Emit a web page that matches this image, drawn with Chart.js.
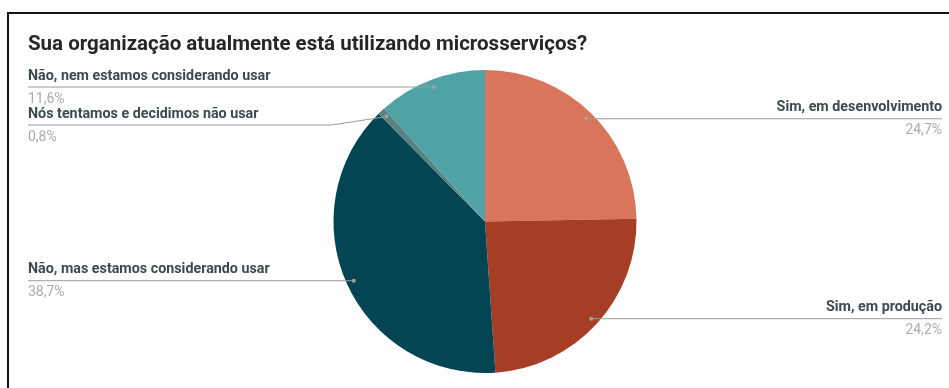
<!DOCTYPE html>
<html lang="pt">
<head>
    <meta charset="UTF-8">
    <title>Microsserviços</title>
    <script src="https://cdn.jsdelivr.net/npm/chart.js"></script>
    <style>
        html, body {
            margin: 0;
            padding: 0;
            background: #ffffff;
        }
        .frame {
            position: absolute;
            left: 7px;
            top: 12px;
            width: 960px;
            height: 400px;
            border-top: 2px solid #111;
            border-left: 2px solid #111;
        }
        .chart-container {
            position: absolute;
            left: 0;
            top: 0;
            width: 949px;
            height: 388px;
        }
    </style>
</head>
<body>
    <div class="frame"></div>
    <div class="chart-container">
        <canvas id="pieChart"></canvas>
    </div>

    <script>
        // Data
        const chartTitle = 'Sua organização atualmente está utilizando microsserviços?';
        const categories = [
            'Sim, em desenvolvimento',
            'Sim, em produção',
            'Não, mas estamos considerando usar',
            'Nós tentamos e decidimos não usar',
            'Não, nem estamos considerando usar'
        ];
        const shares = [24.7, 24.2, 38.7, 0.8, 11.6];
        const valueLabels = ['24,7%', '24,2%', '38,7%', '0,8%', '11,6%'];
        const sliceColors = ['#d8755a', '#a63e26', '#034552', '#5a8283', '#4fa3a5'];

        // Draws title, leader lines and outside labels
        const calloutPlugin = {
            id: 'callouts',
            afterDraw(chart) {
                const ctx = chart.ctx;
                ctx.save();

                ctx.fillStyle = '#262626';
                ctx.font = 'bold 20.5px Roboto';
                ctx.textBaseline = 'middle';
                ctx.textAlign = 'left';
                ctx.fillText(chartTitle, 28, 45);

                const meta = chart.getDatasetMeta(0);
                const leftX = 28;
                const rightX = 942;
                let lastLeftY = -Infinity;
                let lastRightY = -Infinity;

                // anchor dot near the rim of each slice
                const items = meta.data.map((arc, i) => {
                    const p = arc.getProps(['x', 'y', 'startAngle', 'endAngle', 'outerRadius']);
                    const mid = (p.startAngle + p.endAngle) / 2;
                    const r = p.outerRadius * 0.95;
                    return {
                        i,
                        dx: p.x + Math.cos(mid) * r,
                        dy: p.y + Math.sin(mid) * r,
                        right: Math.cos(mid) >= 0
                    };
                });
                const ordered = items.slice().sort((a, b) => a.dy - b.dy);

                ordered.forEach(it => {
                    let lineY = it.dy;
                    if (it.right) {
                        lineY = Math.max(lineY, lastRightY + 38);
                        lastRightY = lineY;
                    } else {
                        lineY = Math.max(lineY, lastLeftY + 38);
                        lastLeftY = lineY;
                    }

                    ctx.strokeStyle = '#9a9a9a';
                    ctx.lineWidth = 1;
                    ctx.beginPath();
                    if (it.right) {
                        ctx.moveTo(rightX, lineY);
                        if (Math.abs(lineY - it.dy) > 1) {
                            ctx.lineTo(it.dx + 55, lineY);
                        }
                        ctx.lineTo(it.dx, it.dy);
                    } else {
                        ctx.moveTo(leftX, lineY);
                        if (Math.abs(lineY - it.dy) > 1) {
                            ctx.lineTo(it.dx - 55, lineY);
                        }
                        ctx.lineTo(it.dx, it.dy);
                    }
                    ctx.stroke();

                    ctx.fillStyle = '#a0a0a0';
                    ctx.beginPath();
                    ctx.arc(it.dx, it.dy, 2, 0, Math.PI * 2);
                    ctx.fill();

                    ctx.textAlign = it.right ? 'right' : 'left';
                    const tx = it.right ? rightX : leftX;
                    ctx.fillStyle = '#3d4a4f';
                    ctx.font = 'bold 14.3px Roboto';
                    ctx.fillText(categories[it.i], tx, lineY - 11);
                    ctx.fillStyle = '#ababab';
                    ctx.font = '14px Roboto';
                    ctx.fillText(valueLabels[it.i], tx, lineY + 12);
                });

                ctx.restore();
            }
        };

        const ctx = document.getElementById('pieChart').getContext('2d');
        const chart = new Chart(ctx, {
            type: 'pie',
            data: {
                labels: categories,
                datasets: [{
                    data: shares,
                    backgroundColor: sliceColors,
                    borderWidth: 0
                }]
            },
            options: {
                responsive: true,
                maintainAspectRatio: false,
                animation: false,
                layout: {
                    padding: { top: 70, bottom: 15, left: 333, right: 312 }
                },
                plugins: {
                    legend: { display: false },
                    tooltip: { enabled: false },
                    title: { display: false }
                }
            },
            plugins: [calloutPlugin]
        });
    </script>
</body>
</html>
